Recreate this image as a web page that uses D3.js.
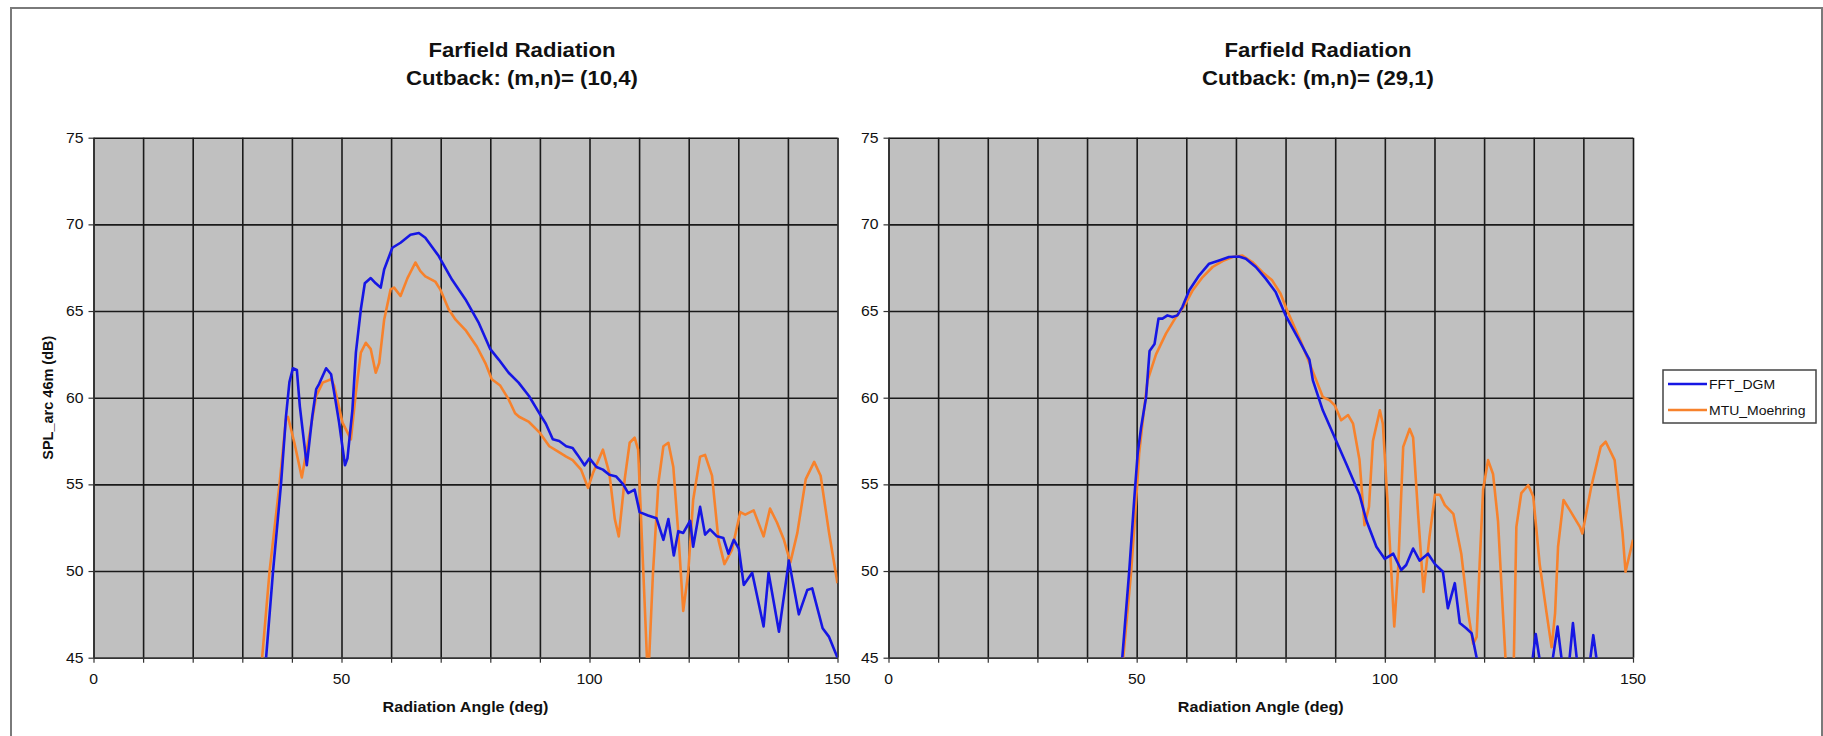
<!DOCTYPE html>
<html>
<head>
<meta charset="utf-8">
<script src="https://cdn.jsdelivr.net/npm/d3@7/dist/d3.min.js"></script>
<style>
  body { margin: 0; background: #ffffff; }
  svg text { font-family: Arial, 'Liberation Sans', sans-serif; }
</style>
</head>
<body>
<div id="graf"></div>
<script>
// valores: [angulo (deg), SPL (dB)]
seriesNames = ['FFT_DGM', 'MTU_Moehring']
yTicks = [45, 50, 55, 60, 65, 70, 75]
xTicks = [0, 50, 100, 150]

leftFFT = [[34.8,45],[36.2,50],[37.8,55],[38.8,58.9],[39.5,60.9],[40.2,61.7],[41,61.6],[41.6,59.5],[43,56.1],
  [44.1,58.9],[44.9,60.5],[45.5,60.8],[46.9,61.7],[47.9,61.35],[48.7,60],[49.5,58.6],[50.7,56.1],[51.2,56.5],
  [52.2,59.3],[52.9,62.6],[53.9,65.1],[54.7,66.6],[55.9,66.9],[56.9,66.6],[57.9,66.35],[58.6,67.4],[60.25,68.65],
  [61.9,68.94],[63.9,69.4],[65.6,69.5],[66.9,69.23],[69.6,68.17],[72.3,66.8],[75,65.67],[77.7,64.3],[80,62.8],
  [81.7,62.2],[83.7,61.44],[85.7,60.87],[87.8,60.1],[89.9,59.1],[91.2,58.5],[92.6,57.6],[93.9,57.5],[95.3,57.2],
  [96.6,57.1],[97.6,56.7],[99,56.1],[100,56.5],[101.4,56],[102.7,55.85],[104,55.55],[105.4,55.45],[106.8,55],
  [107.8,54.5],[109.1,54.7],[110.1,53.4],[111.8,53.2],[113.5,53.05],[114.9,51.8],[115.9,53],[117,50.9],[117.9,52.3],
  [118.9,52.2],[120.3,52.9],[120.9,51.4],[122.3,53.7],[123.3,52.1],[124.3,52.4],[125.7,52],[127,51.9],[128,51],
  [129.1,51.8],[130.1,51.3],[131.1,49.2],[132.8,49.9],[135.1,46.8],[136.1,49.9],[138.2,46.5],[140.2,50.6],
  [142.2,47.5],[143.9,48.9],[144.9,49],[147,46.7],[148.3,46.2],[150,45]]

leftMTU = [[34,45],[35.5,50],[37.5,55],[38.8,58.75],[39.2,58.9],[40.5,57.4],[42,55.4],[43.5,57.8],[44.9,60.1],
  [46.2,60.87],[47.9,61.06],[48.5,60.7],[50.2,58.56],[51.9,57.6],[52.9,60.3],[53.9,62.6],[54.9,63.17],[55.9,62.8],
  [56.9,61.44],[57.6,62],[58.6,64.5],[59.9,66.25],[60.6,66.35],[61.9,65.87],[63.3,66.9],[64.9,67.8],[65.9,67.3],
  [66.9,67],[68.9,66.7],[69.9,66.25],[71.6,65.1],[73,64.5],[75,63.9],[77.3,62.94],[79,62],[80.3,61.06],[82,60.7],
  [83.7,59.9],[85,59.1],[85.8,58.9],[87.8,58.6],[89.9,58],[91.9,57.2],[93.6,56.9],[95.3,56.6],[96.6,56.4],
  [98.3,55.85],[99.7,54.8],[100.7,55.65],[102.7,57],[104,55.65],[105.1,53],[105.9,52],[107.1,55.3],[108.1,57.4],
  [109.1,57.7],[109.8,57],[110.8,50.3],[111.8,43.5],[112.8,49.9],[113.9,55.1],[114.9,57.2],[115.9,57.4],[116.9,56],
  [117.9,52.2],[118.9,47.7],[119.9,49.9],[120.9,54.1],[122.3,56.6],[123.3,56.7],[124.7,55.5],[126,51.8],
  [127.2,50.4],[128.7,51.2],[130.4,53.4],[131.4,53.25],[133.1,53.5],[135.1,52],[136.4,53.6],[137.8,52.8],
  [139.2,51.8],[140.5,50.5],[141.9,52.2],[143.6,55.3],[145.3,56.3],[146.6,55.5],[148.3,52.2],[150,49.3]]

rightFFT = [[47.1,45],[48.5,50],[49.5,54.1],[50.2,56.77],[50.9,58.3],[51.9,60.04],[52.6,62.7],[53.6,63.1],
  [54.4,64.56],[55.2,64.56],[56.2,64.75],[57.2,64.65],[58.2,64.75],[59.2,65.23],[60.6,66.2],[62.6,67.06],
  [64.6,67.73],[66.6,67.92],[68.6,68.12],[70.6,68.15],[72,68.02],[74,67.54],[76,66.87],[78,66.1],[80,64.75],
  [82.4,63.5],[84.8,62.2],[85.5,61],[87.5,59.27],[89.9,57.7],[92.2,56.2],[94.9,54.4],[96.3,52.9],[98.3,51.4],
  [100,50.7],[101.7,51],[103.3,50.06],[104.3,50.35],[105.7,51.3],[107,50.6],[108.7,51],[110.1,50.4],[111.7,49.96],
  [112.7,47.85],[114.1,49.3],[115.1,47],[116.4,46.7],[117.5,46.4],[118.5,45],[121,43.5],[125,43],[129.5,44.3],
  [130.4,46.37],[131.4,44.5],[133.5,44.3],[134.8,46.8],[135.8,44.5],[137.1,44.6],[137.9,47],[138.8,44.6],
  [141.2,44.5],[142,46.3],[143,44.2]]

rightMTU = [[47.3,45],[48.9,50],[49.9,54.1],[50.5,56.77],[51.4,59.1],[52.2,61],[53.9,62.5],[55.9,63.7],[57.9,64.65],
  [59.6,65.3],[61.3,66.2],[63.3,66.96],[65.3,67.54],[67.3,67.88],[69.3,68.12],[71.3,68.2],[73.3,67.83],[75.3,67.25],
  [77.3,66.77],[79,66],[80.3,65.04],[83,63.3],[86.2,61],[87.5,60.04],[88.9,59.85],[89.9,59.56],[91.2,58.7],
  [92.6,59],[93.6,58.5],[94.9,56.4],[95.9,52.65],[96.8,53.7],[97.6,57.5],[99,59.27],[99.6,58.5],[100.6,53.7],
  [101.9,46.8],[102.7,50.25],[103.7,57.16],[105,58.2],[105.7,57.7],[106.7,53.3],[107.8,48.8],[109,51.98],
  [110.1,54.4],[111.1,54.4],[112.1,53.8],[113.8,53.3],[115.4,51],[116.8,47.56],[117.8,45.8],[118.5,46.2],
  [119.1,50.4],[119.8,54.7],[120.8,56.4],[121.8,55.6],[122.8,52.9],[123.8,47.56],[124.6,43.5],[125.9,43.5],
  [126.5,52.55],[127.5,54.5],[128.9,54.95],[129.9,54.3],[131.2,50.4],[132.6,47.56],[133.6,45.6],[134.3,47.56],
  [134.9,51.4],[136,54.1],[137.3,53.5],[139.3,52.55],[139.8,52.17],[141.6,54.87],[143.5,57.17],[144.5,57.46],
  [146.3,56.4],[147.9,52.17],[148.5,49.96],[150,51.8]]

colors = ['#1616e4', '#f7822c']

W = 1823
H = 736
plotTop = 137.7
plotBottom = 657.7

svg = d3.select('#graf').append('svg')
  .attr('width', W)
  .attr('height', H)

// marco exterior
svg.append('rect')
  .attr('x', 11).attr('y', 8)
  .attr('width', 1811).attr('height', 740)
  .attr('fill', 'none')
  .attr('stroke', '#7a7a7a')
  .attr('stroke-width', 2)

// texto con un leve estirado horizontal como en la imagen
function txt(g, x, y, s, size, weight, anchor, sx, rot) {
  return g.append('text')
    .attr('transform', `translate(${x},${y}) rotate(${rot || 0}) scale(${sx},1)`)
    .attr('text-anchor', anchor)
    .attr('font-size', size + 'px')
    .attr('font-weight', weight)
    .attr('fill', '#111')
    .text(s)
}

function panel(id, x0, x1, title2, titleX, fft, mtu, ylabel) {
  let x = d3.scaleLinear().domain([0, 150]).range([x0, x1])
  let y = d3.scaleLinear().domain([45, 75]).range([plotBottom, plotTop])
  let h = plotBottom - plotTop

  let g = svg.append('g')

  g.append('rect')
    .attr('x', x0).attr('y', plotTop)
    .attr('width', x1 - x0).attr('height', h)
    .attr('fill', '#c0c0c0')

  g.append('clipPath').attr('id', 'clip' + id)
    .append('rect')
    .attr('x', x0).attr('y', plotTop)
    .attr('width', x1 - x0).attr('height', h)

  // rejilla
  g.append('g')
    .attr('transform', `translate(0,${plotBottom})`)
    .call(d3.axisBottom(x).tickValues(d3.range(0, 151, 10)).tickFormat('').tickSize(-h).tickSizeOuter(0))
    .call(a => a.select('.domain').remove())
    .selectAll('line').attr('stroke', '#1a1a1a').attr('stroke-width', 1.6)
  g.append('g')
    .attr('transform', `translate(${x0},0)`)
    .call(d3.axisLeft(y).tickValues(yTicks).tickFormat('').tickSize(-(x1 - x0)).tickSizeOuter(0))
    .call(a => a.select('.domain').remove())
    .selectAll('line').attr('stroke', '#1a1a1a').attr('stroke-width', 1.6)

  // ejes
  let ax = g.append('g')
    .attr('transform', `translate(${x0},0)`)
    .call(d3.axisLeft(y).tickValues(yTicks).tickSize(5).tickSizeOuter(0).tickFormat(''))
  ax.select('.domain').attr('stroke', '#333').attr('stroke-width', 1.5)
  ax.selectAll('line').attr('stroke', '#333').attr('stroke-width', 1.2)
  let bx = g.append('g')
    .attr('transform', `translate(0,${plotBottom})`)
    .call(d3.axisBottom(x).tickValues(d3.range(0, 151, 10)).tickSize(5).tickSizeOuter(0).tickFormat(''))
  bx.select('.domain').attr('stroke', '#333').attr('stroke-width', 1.5)
  bx.selectAll('line').attr('stroke', '#333').attr('stroke-width', 1.2)

  yTicks.forEach(v => txt(g, x0 - 10, y(v) + 5, v, 15, 'normal', 'end', 1.05))
  xTicks.forEach(v => txt(g, x(v), 684, v, 15, 'normal', 'middle', 1.05))

  let line = d3.line().x(d => x(d[0])).y(d => y(d[1]))
  ;[mtu, fft].forEach((s, i) => {
    g.append('path')
      .datum(s)
      .attr('d', line)
      .attr('fill', 'none')
      .attr('stroke', i == 0 ? colors[1] : colors[0])
      .attr('stroke-width', 2.6)
      .attr('stroke-linejoin', 'round')
      .attr('clip-path', `url(#clip${id})`)
  })

  txt(g, titleX, 57, 'Farfield Radiation', 20.5, 'bold', 'middle', 1.08)
  txt(g, titleX, 85, title2, 20.5, 'bold', 'middle', 1.08)
  txt(g, (x0 + x1) / 2, 712, 'Radiation Angle (deg)', 15.5, 'bold', 'middle', 1.04)
  if (ylabel) txt(g, 53, (plotTop + plotBottom) / 2, 'SPL_arc 46m (dB)', 14.5, 'bold', 'middle', 1, -90)
}

panel('L', 93.5, 837.5, 'Cutback: (m,n)= (10,4)', 522, leftFFT, leftMTU, true)
panel('R', 888.5, 1633, 'Cutback: (m,n)= (29,1)', 1318, rightFFT, rightMTU, false)

// leyenda
leg = svg.append('g')
leg.append('rect')
  .attr('x', 1663).attr('y', 370)
  .attr('width', 153).attr('height', 53)
  .attr('fill', '#fff')
  .attr('stroke', '#444')
  .attr('stroke-width', 1.5)
seriesNames.forEach((n, i) => {
  let ly = 384 + i * 26
  leg.append('line')
    .attr('x1', 1668).attr('x2', 1707)
    .attr('y1', ly).attr('y2', ly)
    .attr('stroke', colors[i])
    .attr('stroke-width', 2.6)
  txt(leg, 1709, ly + 4.5, n, 12.5, 'normal', 'start', 1.12)
})
</script>
</body>
</html>
